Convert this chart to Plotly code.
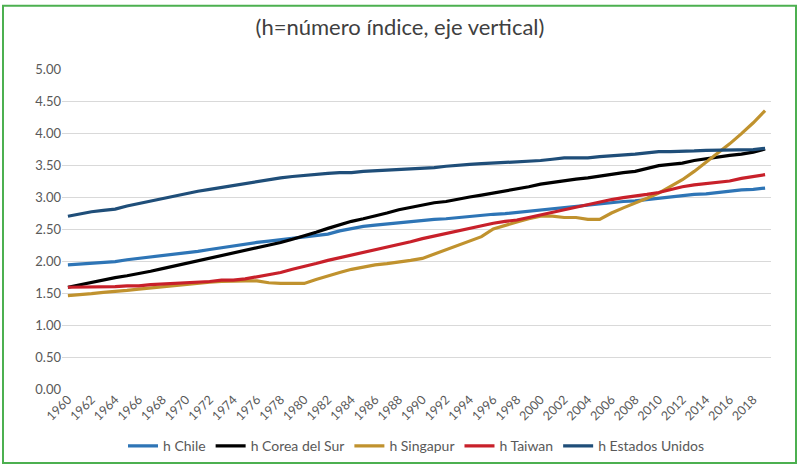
import plotly.graph_objects as go

years = list(range(1960, 2020))

chile = [1.94, 1.95, 1.96, 1.97, 1.99, 2.02, 2.04, 2.06, 2.08, 2.10,
         2.13, 2.15, 2.18, 2.21, 2.24, 2.26, 2.29, 2.31, 2.33, 2.35,
         2.37, 2.39, 2.42, 2.47, 2.51, 2.54, 2.56, 2.58, 2.59, 2.61,
         2.64, 2.65, 2.66, 2.68, 2.70, 2.71, 2.73, 2.74, 2.76, 2.78,
         2.80, 2.82, 2.84, 2.86, 2.88, 2.90, 2.92, 2.93, 2.94, 2.96,
         2.98, 3.00, 3.03, 3.04, 3.05, 3.07, 3.10, 3.11, 3.12, 3.14]

corea = [1.59, 1.63, 1.67, 1.70, 1.74, 1.77, 1.80, 1.84, 1.88, 1.92,
         1.96, 2.00, 2.04, 2.08, 2.12, 2.16, 2.21, 2.25, 2.29, 2.34,
         2.39, 2.45, 2.51, 2.57, 2.62, 2.66, 2.70, 2.75, 2.80, 2.84,
         2.88, 2.91, 2.93, 2.97, 3.00, 3.03, 3.06, 3.09, 3.12, 3.16,
         3.20, 3.23, 3.25, 3.28, 3.30, 3.33, 3.35, 3.38, 3.40, 3.45,
         3.49, 3.51, 3.53, 3.57, 3.60, 3.62, 3.65, 3.67, 3.70, 3.75]

singapur = [1.46, 1.47, 1.49, 1.51, 1.52, 1.54, 1.56, 1.58, 1.60, 1.62,
            1.64, 1.65, 1.67, 1.68, 1.69, 1.69, 1.69, 1.66, 1.65, 1.65,
            1.65, 1.71, 1.77, 1.82, 1.87, 1.91, 1.94, 1.96, 1.98, 2.01,
            2.04, 2.11, 2.18, 2.25, 2.32, 2.38, 2.50, 2.56, 2.61, 2.66,
            2.70, 2.70, 2.68, 2.68, 2.65, 2.65, 2.75, 2.83, 2.90, 2.98,
            3.06, 3.16, 3.27, 3.40, 3.54, 3.68, 3.83, 3.99, 4.16, 4.35]

taiwan = [1.59, 1.59, 1.60, 1.60, 1.60, 1.61, 1.61, 1.63, 1.64, 1.65,
          1.65, 1.66, 1.68, 1.70, 1.70, 1.72, 1.75, 1.79, 1.82, 1.87,
          1.91, 1.96, 2.01, 2.05, 2.09, 2.14, 2.18, 2.22, 2.26, 2.30,
          2.35, 2.39, 2.43, 2.48, 2.52, 2.56, 2.59, 2.62, 2.64, 2.68,
          2.72, 2.77, 2.81, 2.85, 2.88, 2.92, 2.96, 2.99, 3.01, 3.04,
          3.07, 3.12, 3.16, 3.19, 3.21, 3.23, 3.25, 3.29, 3.32, 3.35]

eeuu = [2.70, 2.74, 2.77, 2.79, 2.81, 2.86, 2.90, 2.94, 2.98, 3.01,
        3.06, 3.09, 3.12, 3.15, 3.19, 3.22, 3.25, 3.28, 3.30, 3.32,
        3.34, 3.36, 3.37, 3.38, 3.38, 3.40, 3.41, 3.41, 3.42, 3.43,
        3.44, 3.46, 3.48, 3.50, 3.51, 3.52, 3.53, 3.54, 3.54, 3.56,
        3.57, 3.59, 3.61, 3.61, 3.61, 3.63, 3.64, 3.66, 3.67, 3.69,
        3.71, 3.71, 3.71, 3.72, 3.73, 3.73, 3.73, 3.73, 3.74, 3.76]

series = [
    ("h Chile", chile, "#2E75B6"),
    ("h Corea del Sur", corea, "#000000"),
    ("h Singapur", singapur, "#C0922E"),
    ("h Taiwan", taiwan, "#C8202A"),
    ("h Estados Unidos", eeuu, "#1F4E79"),
]

tick_years = list(range(1960, 2019, 2))
y_ticks = [0, 0.5, 1, 1.5, 2, 2.5, 3, 3.5, 4, 4.5, 5]

fig = go.Figure()
for name, vals, col in series:
    fig.add_trace(go.Scatter(
        x=years, y=vals, name=name, mode="lines",
        line=dict(color=col, width=3.2, shape="linear"),
    ))

W, H = 800, 474
L, R, T, B = 62, 29, 69, 81
pw = W - L - R
ph = H - T - B

fig.update_layout(
    width=W, height=H,
    margin=dict(l=L, r=R, t=T, b=B),
    paper_bgcolor="white", plot_bgcolor="white",
    font=dict(family="Lato, Open Sans, sans-serif", color="#595959", size=12),
    title=dict(text="(h=número índice, eje vertical)", x=0.5, xref="container",
               xanchor="center", y=1 - 27 / H, yanchor="middle",
               font=dict(size=22, color="#404040", family="Lato, Open Sans, sans-serif")),
    xaxis=dict(range=[1959.5, 2019.5], tickmode="array", tickvals=tick_years,
               ticktext=[str(y) for y in tick_years], tickangle=-45,
               showgrid=False, zeroline=False, showline=False, ticks="",
               tickfont=dict(size=12.5, color="#595959")),
    yaxis=dict(range=[0, 5.0], tickmode="array", tickvals=y_ticks,
               ticktext=["%.2f" % v for v in y_ticks],
               showgrid=True, gridcolor="#D9D9D9", gridwidth=1.3,
               zeroline=False, showline=False, ticks="", ticklen=0,
               tickfont=dict(size=13, color="#595959")),
    legend=dict(orientation="h", x=0.5, xanchor="center", y=(393 - 451) / ph,
                yanchor="middle", font=dict(size=14, color="#595959"),
                itemwidth=30, tracegroupgap=0, bgcolor="rgba(0,0,0,0)"),
    showlegend=True,
)

# green chart border
fig.add_shape(type="rect", xref="paper", yref="paper",
              x0=(3 - L) / pw, x1=(796 - L) / pw,
              y0=(H - B - 468) / ph, y1=(H - B - 5) / ph,
              line=dict(color="#4CB050", width=2), fillcolor="rgba(0,0,0,0)",
              layer="below")

fig.write_html("out.html", config={"displayModeBar": False},
               post_script="document.body.style.margin='0';document.body.style.overflow='hidden';")
